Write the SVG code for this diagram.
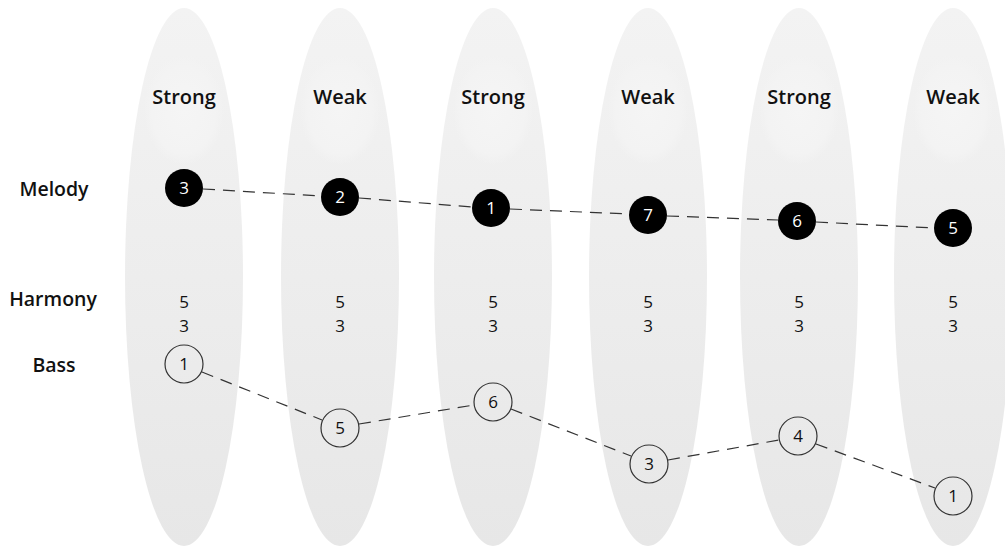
<svg xmlns="http://www.w3.org/2000/svg" width="1005" height="546" viewBox="0 0 1005 546">
<defs>
<linearGradient id="colg" x1="0" y1="0" x2="0" y2="1">
<stop offset="0" stop-color="#f3f3f3"/>
<stop offset="1" stop-color="#e7e7e7"/>
</linearGradient>
<radialGradient id="hl" cx="0.5" cy="0.5" r="0.5">
<stop offset="0" stop-color="#f5f5f5"/>
<stop offset="0.8" stop-color="#f3f3f3"/>
<stop offset="1" stop-color="#f3f3f3" stop-opacity="0"/>
</radialGradient>
</defs>
<style>
.col{fill:url(#colg)}
.hl{fill:url(#hl)}
.head{font-family:"Open Sans","Noto Sans",sans-serif;font-weight:600;font-size:20px;fill:#111;text-anchor:middle}
.row{font-family:"Open Sans","Noto Sans",sans-serif;font-weight:600;font-size:19.5px;fill:#111;text-anchor:middle}
.num{font-family:"Open Sans","Noto Sans",sans-serif;font-size:17px;fill:#111;text-anchor:middle}
.wnum{font-family:"Open Sans","Noto Sans",sans-serif;font-size:17px;fill:#fff;text-anchor:middle}
.mel{fill:#000}
.bas{fill:none;stroke:#333;stroke-width:1.2}
.dash{stroke:#333;stroke-width:1.2;stroke-dasharray:12 8;fill:none}
</style>
<g id="columns">
<g id="col1"><ellipse class="col" cx="184" cy="277" rx="59" ry="269"/><ellipse class="hl" cx="184" cy="110" rx="40" ry="55"/><text class="head" x="184" y="104">Strong</text></g>
<g id="col2"><ellipse class="col" cx="340" cy="277" rx="59" ry="269"/><ellipse class="hl" cx="340" cy="110" rx="40" ry="55"/><text class="head" x="340" y="104">Weak</text></g>
<g id="col3"><ellipse class="col" cx="493" cy="277" rx="59" ry="269"/><ellipse class="hl" cx="493" cy="110" rx="40" ry="55"/><text class="head" x="493" y="104">Strong</text></g>
<g id="col4"><ellipse class="col" cx="648" cy="277" rx="59" ry="269"/><ellipse class="hl" cx="648" cy="110" rx="40" ry="55"/><text class="head" x="648" y="104">Weak</text></g>
<g id="col5"><ellipse class="col" cx="799" cy="277" rx="59" ry="269"/><ellipse class="hl" cx="799" cy="110" rx="40" ry="55"/><text class="head" x="799" y="104">Strong</text></g>
<g id="col6"><ellipse class="col" cx="953" cy="277" rx="59" ry="269"/><ellipse class="hl" cx="953" cy="110" rx="40" ry="55"/><text class="head" x="953" y="104">Weak</text></g>
</g>
<g id="rowlabels">
<text id="lbl-melody" class="row" x="54" y="196">Melody</text>
<text id="lbl-harmony" class="row" x="53" y="306">Harmony</text>
<text id="lbl-bass" class="row" x="54" y="372">Bass</text>
</g>
<g id="connectors">
<path class="dash" d="M203,189 L321,196"/>
<path class="dash" d="M359,198 L472,207"/>
<path class="dash" d="M510,209 L629,214"/>
<path class="dash" d="M667,216 L778,220"/>
<path class="dash" d="M816,222 L934,228"/>
<path class="dash" d="M202,372 L322,420"/>
<path class="dash" d="M359,424 L474,405"/>
<path class="dash" d="M511,409 L631,456"/>
<path class="dash" d="M668,460 L779,440"/>
<path class="dash" d="M816,444 L935,488"/>
</g>
<g id="harmony">
<text class="num" x="184" y="308">5</text><text class="num" x="184" y="332">3</text>
<text class="num" x="340" y="308">5</text><text class="num" x="340" y="332">3</text>
<text class="num" x="493" y="308">5</text><text class="num" x="493" y="332">3</text>
<text class="num" x="648" y="308">5</text><text class="num" x="648" y="332">3</text>
<text class="num" x="799" y="308">5</text><text class="num" x="799" y="332">3</text>
<text class="num" x="953" y="308">5</text><text class="num" x="953" y="332">3</text>
</g>
<g id="melody">
<g id="m1"><circle class="mel" cx="184" cy="188" r="19"/><text class="wnum" x="184" y="194">3</text></g>
<g id="m2"><circle class="mel" cx="340" cy="197" r="19"/><text class="wnum" x="340" y="203">2</text></g>
<g id="m3"><circle class="mel" cx="491" cy="208" r="19"/><text class="wnum" x="491" y="214">1</text></g>
<g id="m4"><circle class="mel" cx="648" cy="215" r="19"/><text class="wnum" x="648" y="221">7</text></g>
<g id="m5"><circle class="mel" cx="797" cy="221" r="19"/><text class="wnum" x="797" y="227">6</text></g>
<g id="m6"><circle class="mel" cx="953" cy="228" r="19"/><text class="wnum" x="953" y="234">5</text></g>
</g>
<g id="bass">
<g id="b1"><circle class="bas" cx="184" cy="364" r="19"/><text class="num" x="184" y="370">1</text></g>
<g id="b2"><circle class="bas" cx="340" cy="428" r="19"/><text class="num" x="340" y="434">5</text></g>
<g id="b3"><circle class="bas" cx="493" cy="402" r="19"/><text class="num" x="493" y="408">6</text></g>
<g id="b4"><circle class="bas" cx="649" cy="464" r="19"/><text class="num" x="649" y="470">3</text></g>
<g id="b5"><circle class="bas" cx="798" cy="436" r="19"/><text class="num" x="798" y="442">4</text></g>
<g id="b6"><circle class="bas" cx="953" cy="496" r="19"/><text class="num" x="953" y="502">1</text></g>
</g>
</svg>
